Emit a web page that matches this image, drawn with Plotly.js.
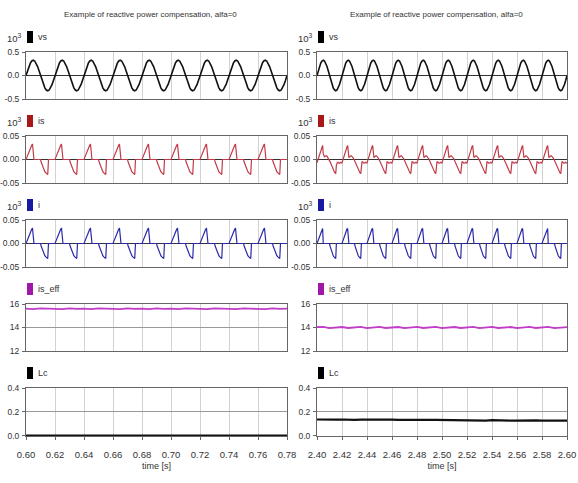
<!DOCTYPE html>
<html>
<head>
<meta charset="utf-8">
<script src="https://cdn.plot.ly/plotly-3.0.1.min.js"></script>
<style>html,body{margin:0;padding:0;background:#fff}#chart{width:578px;height:483px}</style>
</head>
<body>
<div id="chart"></div>
<script>
// ---------------- DATA ----------------
var chartTitle = "Example of reactive power compensation, alfa=0";
var seriesNames = ["vs", "is", "i", "is_eff", "Lc"];
var xTickLabelsLeft  = ["0.60","0.62","0.64","0.66","0.68","0.70","0.72","0.74","0.76","0.78"];
var xTickLabelsRight = ["2.40","2.42","2.44","2.46","2.48","2.50","2.52","2.54","2.56","2.58","2.60"];
var xAxisTitle = "time [s]";

// start times of the 50 Hz cycles shown (period 0.02 s)
var cycleStartsLeft  = [0.60, 0.62, 0.64, 0.66, 0.68, 0.70, 0.72, 0.74, 0.76];
var cycleStartsRight = [2.40, 2.42, 2.44, 2.46, 2.48, 2.50, 2.52, 2.54, 2.56, 2.58];

// one cycle of vs (x10^3), sampled every 1 ms (same on both sides)
var vsCycle = [0, 0.100, 0.191, 0.263, 0.309, 0.325, 0.309, 0.263, 0.191, 0.100,
               0, -0.100, -0.191, -0.263, -0.309, -0.325, -0.309, -0.263, -0.191, -0.100];

// one cycle of is (left) = i (left and right) (x10^3), sampled every 0.5 ms
var iCycle = [0, 0.004, 0.008, 0.012, 0.017, 0.021, 0.025, 0.028, 0.031, 0.032,
              0, 0, 0, 0, 0, 0, 0, 0, 0, 0,
              0, -0.006, -0.011, -0.016, -0.020, -0.023, -0.026, -0.028, -0.030, -0.031,
              -0.032, 0, 0, 0, 0, 0, 0, 0, 0, 0];

// one cycle of is (right, compensated) (x10^3), sampled every 0.5 ms
var isCycleRight = [-0.007, -0.003, 0.002, 0.007, 0.012, 0.016, 0.020, 0.024, 0.027, 0.030,
                    0.012, 0.005, 0.005, 0.007, 0.008, 0.008, 0.007, 0.005, 0.003, 0.001,
                    -0.002, -0.005, -0.008, -0.012, -0.016, -0.019, -0.022, -0.025, -0.027, -0.029,
                    -0.030, -0.012, -0.005, -0.005, -0.007, -0.008, -0.008, -0.007, -0.006, -0.007];

// is_eff and Lc sampled every 5 ms
var isEffLeft = [15.60,15.56,15.62,15.58,15.60,15.56,15.63,15.58,15.61,15.56,15.62,15.59,15.60,15.56,15.63,15.58,15.61,15.56,15.62,
                 15.58,15.61,15.56,15.62,15.58,15.60,15.56,15.62,15.59,15.61,15.56,15.62,15.58,15.60,15.56,15.62,15.58,15.61];
var isEffRight = [14.03,14.05,13.95,14.02,14.04,13.96,14.03,14.05,13.94,14.02,14.05,13.96,14.03,14.04,13.95,14.02,14.05,13.96,14.03,14.05,
                  13.95,14.02,14.04,13.96,14.03,14.05,13.94,14.02,14.05,13.96,14.03,14.04,13.95,14.02,14.05,13.96,14.03,14.05,13.95,14.02,14.04];
var lcLeft = [0,0,0,0,0,0,0,0,0,0,0,0,0,0,0,0,0,0,0,0,0,0,0,0,0,0,0,0,0,0,0,0,0,0,0,0,0];
var lcRight = [0.135,0.133,0.131,0.134,0.135,0.132,0.131,0.134,0.135,0.132,0.131,0.133,0.134,0.131,0.130,0.133,0.132,0.130,0.131,0.132,
               0.131,0.129,0.126,0.128,0.130,0.129,0.127,0.126,0.129,0.130,0.128,0.126,0.125,0.127,0.129,0.127,0.125,0.126,0.128,0.127,0.126];

var yTicks = [
  {vals:[-0.5,0,0.5],   text:["-0.5","0.0","0.5"],    range:[-0.5,0.5]},
  {vals:[-0.05,0,0.05], text:["-0.05","0.00","0.05"], range:[-0.05,0.05]},
  {vals:[-0.05,0,0.05], text:["-0.05","0.00","0.05"], range:[-0.05,0.05]},
  {vals:[12,14,16],     text:["12","14","16"],        range:[12,16]},
  {vals:[0,0.2,0.4],    text:["0.0","0.2","0.4"],     range:[-0.004,0.4]}
];

// ---------------- build ----------------
var PERIOD = 0.02;
function tile(starts, cycle) {
  var step = PERIOD / cycle.length, x = [], y = [];
  starts.forEach(function (s) {
    for (var k = 0; k < cycle.length; k++) { x.push(+(s + k * step).toFixed(6)); y.push(cycle[k]); }
  });
  x.push(+(starts[starts.length - 1] + PERIOD).toFixed(6)); y.push(cycle[0]);
  return {x: x, y: y};
}
function grid(t0, vals) {
  return vals.map(function (v, k) { return +(t0 + k * 0.005).toFixed(6); });
}

var W = 578, H = 483;
var font = "'Liberation Sans Narrow', 'Arial Narrow', 'Liberation Sans', Arial, sans-serif";
var colors = ["#111111", "#c23a48", "#2a2aa8", "#c23cc8", "#111111"];
var keyColors = ["#000000", "#a81818", "#1818a0", "#a018a8", "#000000"];
var widths = [1.6, 1.2, 1.2, 1.8, 2.2];
var colX = [[26, 287], [317, 567]];
var rowY = [[52, 99], [136, 183], [220, 267], [304, 351], [388, 436]];

var left = {
  range: [0.60, 0.78], ticks: xTickLabelsLeft,
  data: [tile(cycleStartsLeft, vsCycle), tile(cycleStartsLeft, iCycle), tile(cycleStartsLeft, iCycle),
         {x: grid(0.60, isEffLeft), y: isEffLeft}, {x: grid(0.60, lcLeft), y: lcLeft}]
};
var right = {
  range: [2.40, 2.60], ticks: xTickLabelsRight,
  data: [tile(cycleStartsRight, vsCycle), tile(cycleStartsRight, isCycleRight), tile(cycleStartsRight, iCycle),
         {x: grid(2.40, isEffRight), y: isEffRight}, {x: grid(2.40, lcRight), y: lcRight}]
};
var cols = [left, right];

var traces = [], layout = {
  width: W, height: H, margin: {l: 0, r: 0, t: 0, b: 0},
  paper_bgcolor: "#fff", plot_bgcolor: "#fff", showlegend: false,
  font: {family: font, size: 9, color: "#333"},
  annotations: [], shapes: []
};

cols.forEach(function (col, c) {
  var dx = c === 0 ? 0 : 291;
  layout.annotations.push({
    xref: "paper", yref: "paper", x: (colX[c][0] + colX[c][1]) / 2 / W - 0.01, y: 1 - 15 / H,
    text: chartTitle, showarrow: false, xanchor: "center", yanchor: "middle",
    font: {family: font, size: 8, color: "#333"}
  });
  for (var r = 0; r < 5; r++) {
    var n = r * 2 + c + 1;
    var xa = "xaxis" + n, ya = "yaxis" + n;
    var d = col.data[r];
    traces.push({
      x: d.x, y: d.y, xaxis: "x" + n, yaxis: "y" + n, type: "scatter", mode: "lines",
      line: {color: colors[r], width: widths[r]}, hoverinfo: "skip"
    });
    var tickvals = col.ticks.map(Number);
    layout[xa] = {
      domain: [colX[c][0] / W, colX[c][1] / W], anchor: "y" + n, range: col.range,
      tickvals: tickvals, ticktext: col.ticks, showticklabels: r === 4,
      ticks: r === 4 ? "outside" : "", ticklen: 3, tickcolor: "#666",
      ticklabelstandoff: 7,
      showgrid: true, gridcolor: "#d2d2d2", gridwidth: 1, zeroline: false,
      showline: true, mirror: true, linecolor: "#666", linewidth: 1,
      tickfont: {family: font, size: 9.5, color: "#333"}, fixedrange: true
    };
    if (r === 4) layout[xa].title = {text: xAxisTitle, standoff: 3, font: {family: font, size: 9, color: "#333"}};
    var yt = yTicks[r];
    layout[ya] = {
      domain: [1 - rowY[r][1] / H, 1 - rowY[r][0] / H], anchor: "x" + n, range: yt.range,
      tickvals: yt.vals, ticktext: yt.text, ticks: "outside", ticklen: 3, tickcolor: "#666",
      ticklabelstandoff: 1,
      showgrid: true, gridcolor: "#9a9a9a", gridwidth: 1,
      zeroline: r < 3, zerolinecolor: "#333", zerolinewidth: 1.6,
      showline: true, mirror: true, linecolor: "#666", linewidth: 1,
      tickfont: {family: font, size: 8.5, color: "#333"}, fixedrange: true
    };
    // series key
    var ky = rowY[r][0] - 15;
    layout.shapes.push({
      type: "rect", xref: "paper", yref: "paper",
      x0: (27 + dx) / W, x1: (33 + dx) / W, y0: 1 - (ky + 6) / H, y1: 1 - (ky - 6) / H,
      fillcolor: keyColors[r], line: {width: 0}
    });
    layout.annotations.push({
      xref: "paper", yref: "paper", x: (36 + dx) / W, y: 1 - ky / H,
      text: seriesNames[r], showarrow: false, xanchor: "left", yanchor: "middle",
      font: {family: font, size: 9, color: "#333"}
    });
    if (r < 3) {
      layout.annotations.push({
        xref: "paper", yref: "paper", x: (24 + dx) / W, y: 1 - (ky + 1) / H,
        text: "10<sup>3</sup>", showarrow: false, xanchor: "right", yanchor: "middle",
        font: {family: font, size: 9.5, color: "#333"}
      });
    }
  }
});

Plotly.newPlot("chart", traces, layout, {staticPlot: true, displayModeBar: false});
</script>
</body>
</html>
